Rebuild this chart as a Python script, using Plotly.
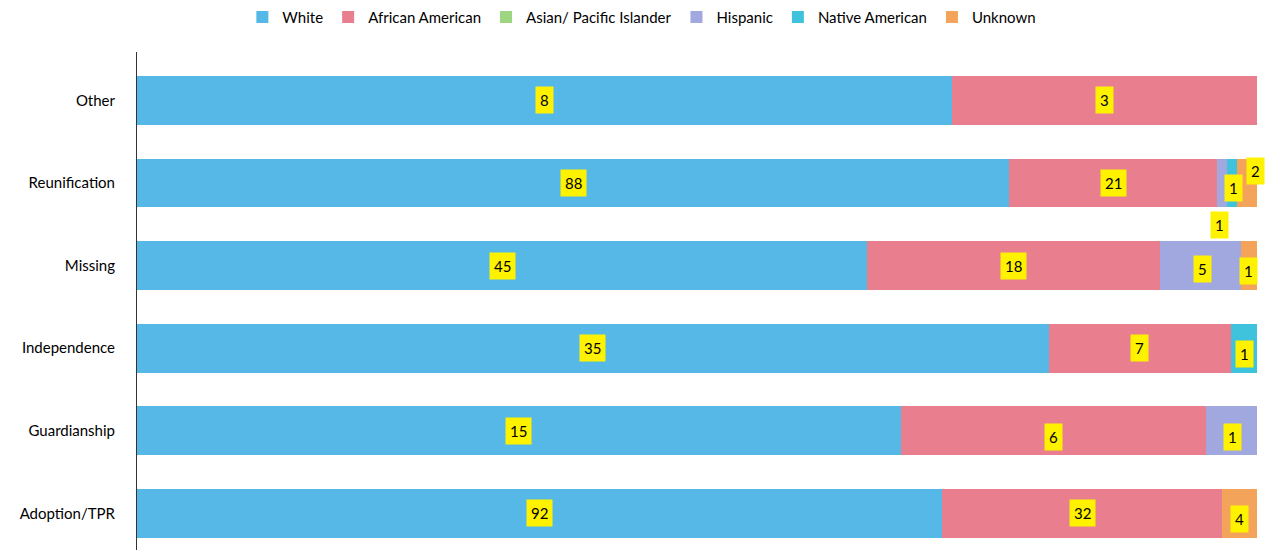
import plotly.graph_objects as go

categories = ["Adoption/TPR", "Guardianship", "Independence", "Missing", "Reunification", "Other"]
series_names = ["White", "African American", "Asian/ Pacific Islander", "Hispanic", "Native American", "Unknown"]
white = [92, 15, 35, 45, 88, 8]
african_american = [32, 6, 7, 18, 21, 3]
asian_pi = [0, 0, 0, 0, 0, 0]
hispanic = [0, 1, 0, 5, 1, 0]
native_american = [0, 0, 1, 0, 1, 0]
unknown = [4, 0, 0, 1, 2, 0]

values = [white, african_american, asian_pi, hispanic, native_american, unknown]
colors = ["#55B8E6", "#E97E8E", "#9DD580", "#A1A7DF", "#3FC2DC", "#F4A45A"]

# label offsets (pixels) for crowded small segments: (series index, category index) -> (xshift, yshift)
label_shift = {
    (3, 4): (-3, -42),
    (4, 4): (1, -5),
    (5, 4): (8, 12),
    (5, 3): (0, -5),
    (3, 3): (2, -3),
    (4, 2): (1, -6),
    (3, 1): (1, -6),
    (1, 1): (0, -6),
    (5, 0): (0, -6),
}

fig = go.Figure()
for name, vals, col in zip(series_names, values, colors):
    fig.add_trace(go.Bar(
        y=categories, x=vals, name=name, orientation="h",
        marker=dict(color=col, line=dict(width=0)),
    ))

annotations = []
for ci, cat in enumerate(categories):
    total = sum(v[ci] for v in values)
    cum = 0.0
    for si, vals in enumerate(values):
        v = vals[ci]
        if v > 0:
            mid = (cum + v / 2) / total * 100
            xs, ys = label_shift.get((si, ci), (0, 0))
            annotations.append(dict(
                x=mid, y=cat, xref="x", yref="y", text=str(v), showarrow=False,
                font=dict(family="Lato, Arial", size=15, color="#000000"),
                bgcolor="#FFF200", borderpad=4, xshift=xs, yshift=ys,
            ))
        cum += v

fig.update_layout(
    barmode="stack", barnorm="percent", bargap=0.41,
    width=1266, height=550,
    margin=dict(l=137, r=9, t=52, b=0, autoexpand=False),
    paper_bgcolor="white", plot_bgcolor="white",
    font=dict(family="Lato, Arial", size=15, color="#000000"),
    showlegend=True,
    legend=dict(orientation="h", x=0.507, xanchor="center", y=1.07, yanchor="middle",
                xref="container", font=dict(size=15), traceorder="normal",
                itemwidth=30, tracegroupgap=0),
    annotations=annotations,
    xaxis=dict(range=[0, 100], visible=False, fixedrange=True, automargin=False),
    yaxis=dict(categoryorder="array", categoryarray=categories, showline=True,
               range=[-0.444, 5.586],
               linecolor="#333333", linewidth=1, ticks="", ticklen=0, automargin=False,
               showgrid=False, ticklabelstandoff=18, tickfont=dict(size=15)),
)

fig.write_html("out.html", config={"displayModeBar": False},
               post_script="document.body.style.margin='0px';")
